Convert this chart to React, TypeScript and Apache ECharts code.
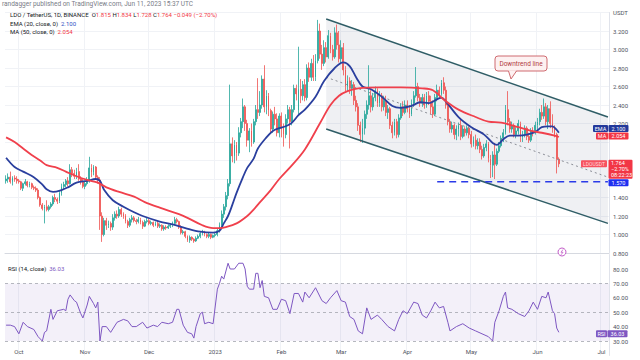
import React, { useEffect, useRef } from 'react';
import * as echarts from 'echarts';

const FONT = 'Roboto, "Liberation Sans", sans-serif';

// ---- categories: daily dates from 2022-09-25 to 2023-07-04 ----
const START_UTC = Date.UTC(2022, 8, 25);
const DAY_COUNT = 283;
const CATEGORIES: string[] = [];
for (let i = 0; i < DAY_COUNT; i++) {
  CATEGORIES.push(new Date(START_UTC + i * 86400000).toISOString().slice(0, 10));
}
const MONTH_LABELS = ['2023', 'Feb', 'Mar', 'Apr', 'May', 'Jun', 'Jul', 'Aug', 'Sep', 'Oct', 'Nov', 'Dec'];

// ---- price axis ticks ----
const PRICE_MIN = 0.8;
const PRICE_MAX = 3.4;
const PRICE_STEP = 0.2;
const HIDDEN_PRICE_TICKS = [1.6, 1.8, 2.0]; // covered by the value tags in the reference
const RSI_MIN = 20;
const RSI_MAX = 90;
const RSI_STEP = 10;

// ---- OHLC [open, close, low, high] ----
const OHLC_SEP = [
  [1.58, 1.60, 1.55, 1.64], [1.60, 1.62, 1.56, 1.66], [1.62, 1.57, 1.55, 1.68], [1.57, 1.61, 1.53, 1.63],
  [1.61, 1.60, 1.57, 1.64], [1.60, 1.58, 1.55, 1.63],
];
const OHLC_OCT = [
  [1.58, 1.57, 1.55, 1.60], [1.57, 1.50, 1.48, 1.58], [1.50, 1.55, 1.47, 1.56], [1.55, 1.57, 1.53, 1.60],
  [1.57, 1.53, 1.51, 1.58], [1.53, 1.55, 1.51, 1.57], [1.55, 1.51, 1.49, 1.56], [1.51, 1.50, 1.48, 1.53],
  [1.50, 1.48, 1.46, 1.52], [1.48, 1.40, 1.38, 1.50], [1.40, 1.32, 1.30, 1.41], [1.32, 1.28, 1.26, 1.34],
  [1.28, 1.30, 1.12, 1.32], [1.30, 1.27, 1.25, 1.37], [1.27, 1.30, 1.25, 1.32], [1.30, 1.33, 1.28, 1.35],
  [1.33, 1.40, 1.31, 1.42], [1.40, 1.38, 1.35, 1.44], [1.38, 1.36, 1.33, 1.40], [1.36, 1.45, 1.34, 1.47],
  [1.45, 1.52, 1.42, 1.55], [1.52, 1.54, 1.49, 1.57], [1.54, 1.58, 1.51, 1.60], [1.58, 1.55, 1.52, 1.62],
  [1.55, 1.70, 1.54, 1.76], [1.70, 1.66, 1.62, 1.73], [1.66, 1.63, 1.60, 1.70], [1.63, 1.68, 1.60, 1.72],
  [1.68, 1.60, 1.58, 1.76], [1.60, 1.57, 1.54, 1.63], [1.57, 1.52, 1.50, 1.60],
];
const OHLC_NOV = [
  [1.52, 1.55, 1.49, 1.58], [1.55, 1.58, 1.53, 1.62], [1.58, 1.72, 1.56, 1.84], [1.72, 1.67, 1.62, 1.76],
  [1.67, 1.73, 1.64, 1.75], [1.73, 1.62, 1.60, 1.74], [1.62, 1.59, 1.55, 1.64], [1.59, 1.20, 1.05, 1.62],
  [1.20, 1.00, 0.92, 1.24], [1.00, 1.15, 0.98, 1.18], [1.15, 1.10, 1.05, 1.18], [1.10, 1.12, 1.07, 1.15],
  [1.12, 1.08, 1.04, 1.14], [1.08, 1.18, 1.05, 1.22], [1.18, 1.22, 1.15, 1.25], [1.22, 1.20, 1.17, 1.26],
  [1.20, 1.27, 1.18, 1.30], [1.27, 1.22, 1.19, 1.29], [1.22, 1.20, 1.17, 1.24], [1.20, 1.14, 1.12, 1.22],
  [1.14, 1.10, 1.07, 1.16], [1.10, 1.16, 1.08, 1.18], [1.16, 1.18, 1.13, 1.21], [1.18, 1.15, 1.13, 1.20],
  [1.15, 1.14, 1.11, 1.17], [1.14, 1.16, 1.12, 1.19], [1.16, 1.13, 1.11, 1.18], [1.13, 1.09, 1.06, 1.15],
  [1.09, 1.14, 1.08, 1.16], [1.14, 1.15, 1.12, 1.18],
];
const OHLC_DEC = [
  [1.15, 1.12, 1.10, 1.17], [1.12, 1.13, 1.10, 1.15], [1.13, 1.10, 1.08, 1.14], [1.10, 1.12, 1.09, 1.14],
  [1.12, 1.09, 1.07, 1.15], [1.09, 1.10, 1.07, 1.12], [1.10, 1.06, 1.04, 1.11], [1.06, 1.08, 1.04, 1.10],
  [1.08, 1.07, 1.05, 1.10], [1.07, 1.09, 1.06, 1.11], [1.09, 1.10, 1.07, 1.12], [1.10, 1.12, 1.08, 1.14],
  [1.12, 1.16, 1.10, 1.19], [1.16, 1.14, 1.12, 1.18], [1.14, 1.08, 1.06, 1.15], [1.08, 1.02, 1.00, 1.10],
  [1.02, 1.03, 1.00, 1.05], [1.03, 0.98, 0.96, 1.04], [0.98, 0.94, 0.92, 0.99], [0.94, 0.97, 0.91, 0.99],
  [0.97, 0.95, 0.93, 0.98], [0.95, 0.93, 0.91, 0.96], [0.93, 0.96, 0.92, 0.98], [0.96, 0.98, 0.95, 1.00],
  [0.98, 1.01, 0.96, 1.03], [1.01, 1.03, 0.99, 1.05], [1.03, 1.00, 0.98, 1.04], [1.00, 0.98, 0.96, 1.01],
  [0.98, 1.00, 0.96, 1.02], [1.00, 0.97, 0.95, 1.01], [0.97, 0.99, 0.96, 1.00],
];
const OHLC_JAN = [
  [0.99, 1.00, 0.97, 1.02], [1.00, 1.04, 0.98, 1.06], [1.04, 1.10, 1.02, 1.13], [1.10, 1.22, 1.08, 1.26],
  [1.22, 1.30, 1.18, 1.33], [1.30, 1.42, 1.26, 1.46], [1.42, 1.55, 1.38, 1.60], [1.55, 1.98, 1.52, 2.62],
  [1.98, 1.85, 1.78, 2.05], [1.85, 1.97, 1.77, 2.02], [1.97, 1.88, 1.80, 2.00], [1.88, 2.10, 1.85, 2.16],
  [2.10, 2.22, 2.05, 2.26], [2.22, 2.38, 2.15, 2.47], [2.38, 2.20, 2.12, 2.40], [2.20, 2.02, 1.95, 2.24],
  [2.02, 2.12, 1.89, 2.15], [2.12, 2.00, 1.95, 2.20], [2.00, 2.22, 1.98, 2.25], [2.22, 2.35, 2.18, 2.40],
  [2.35, 2.32, 2.25, 2.69], [2.32, 2.40, 2.28, 2.55], [2.40, 2.68, 2.36, 2.72], [2.68, 2.38, 2.32, 2.83],
  [2.38, 2.50, 2.30, 2.56], [2.50, 2.34, 2.28, 2.53], [2.34, 2.14, 2.10, 2.36], [2.14, 2.30, 2.10, 2.33],
  [2.30, 2.25, 2.18, 2.38], [2.25, 2.10, 2.06, 2.31], [2.10, 2.28, 2.05, 2.31],
];
const OHLC_FEB = [
  [2.28, 2.15, 2.05, 2.32], [2.15, 2.08, 1.95, 2.20], [2.08, 2.25, 2.04, 2.30], [2.25, 2.35, 2.20, 2.40],
  [2.35, 2.22, 1.93, 2.38], [2.22, 2.35, 2.18, 2.40], [2.35, 2.58, 2.32, 2.62], [2.58, 2.52, 2.45, 2.62],
  [2.34, 2.57, 2.30, 3.03], [2.57, 2.50, 2.42, 2.68], [2.50, 2.62, 2.45, 2.66], [2.62, 2.48, 2.44, 2.68],
  [2.48, 2.80, 2.45, 2.84], [2.80, 2.70, 2.65, 2.86], [2.70, 2.85, 2.66, 2.90], [2.85, 2.70, 2.66, 2.94],
  [2.70, 2.88, 2.66, 2.95], [2.88, 3.20, 2.85, 3.32], [3.20, 2.95, 2.90, 3.28], [2.95, 2.85, 2.78, 3.05],
  [2.85, 3.02, 2.82, 3.10], [3.02, 2.92, 2.86, 3.08], [2.92, 3.15, 2.90, 3.21], [3.15, 3.00, 2.96, 3.18],
  [3.00, 2.92, 2.88, 3.05], [2.92, 3.18, 2.90, 3.24], [3.18, 3.05, 3.00, 3.27], [3.05, 2.90, 2.86, 3.20],
];
const OHLC_MAR = [
  [2.90, 3.02, 2.85, 3.10], [3.02, 2.78, 2.72, 3.07], [2.78, 2.60, 2.55, 2.82], [2.60, 2.66, 2.55, 2.72],
  [2.66, 2.58, 2.52, 2.70], [2.58, 2.62, 2.50, 2.67], [2.62, 2.45, 2.40, 2.65], [2.45, 2.38, 2.33, 2.50],
  [2.38, 2.18, 2.12, 2.42], [2.18, 2.08, 2.00, 2.22], [2.08, 2.15, 1.99, 2.25], [2.15, 2.30, 2.08, 2.34],
  [2.30, 2.40, 2.25, 2.45], [2.40, 2.50, 2.35, 2.83], [2.50, 2.38, 2.32, 2.56], [2.38, 2.48, 2.34, 2.53],
  [2.48, 2.55, 2.44, 2.60], [2.55, 2.42, 2.38, 2.58], [2.42, 2.50, 2.38, 2.55], [2.50, 2.38, 2.33, 2.53],
  [2.38, 2.45, 2.34, 2.50], [2.45, 2.32, 2.28, 2.50], [2.32, 2.36, 2.25, 2.40], [2.36, 2.18, 2.14, 2.38],
  [2.18, 2.10, 2.04, 2.22], [2.10, 2.22, 2.07, 2.25], [2.22, 2.08, 2.04, 2.25], [2.08, 2.26, 2.05, 2.30],
  [2.26, 2.38, 2.24, 2.42], [2.38, 2.32, 2.28, 2.44], [2.32, 2.40, 2.30, 2.45],
];
const OHLC_APR = [
  [2.40, 2.36, 2.32, 2.45], [2.36, 2.30, 2.26, 2.40], [2.30, 2.42, 2.28, 2.46], [2.42, 2.50, 2.38, 2.55],
  [2.50, 2.60, 2.48, 2.81], [2.60, 2.48, 2.44, 2.64], [2.48, 2.42, 2.38, 2.52], [2.42, 2.48, 2.38, 2.52],
  [2.48, 2.40, 2.36, 2.52], [2.40, 2.50, 2.37, 2.54], [2.50, 2.44, 2.40, 2.55], [2.44, 2.38, 2.30, 2.50],
  [2.38, 2.30, 2.26, 2.45], [2.30, 2.48, 2.28, 2.52], [2.48, 2.56, 2.44, 2.62], [2.56, 2.52, 2.48, 2.60],
  [2.52, 2.64, 2.50, 2.67], [2.64, 2.56, 2.52, 2.70], [2.56, 2.40, 2.36, 2.60], [2.40, 2.22, 2.18, 2.43],
  [2.22, 2.14, 2.10, 2.25], [2.14, 2.18, 2.10, 2.22], [2.18, 2.08, 2.03, 2.20], [2.08, 2.14, 2.02, 2.18],
  [2.14, 2.18, 2.06, 2.21], [2.18, 2.06, 2.02, 2.24], [2.06, 2.14, 2.04, 2.18], [2.14, 2.10, 2.06, 2.16],
  [2.10, 2.15, 2.07, 2.18], [2.15, 2.08, 2.04, 2.17],
];
const OHLC_MAY = [
  [2.08, 1.98, 1.94, 2.12], [1.98, 2.02, 1.95, 2.06], [2.02, 1.96, 1.92, 2.08], [1.96, 2.00, 1.92, 2.04],
  [2.00, 1.92, 1.88, 2.04], [1.92, 1.85, 1.81, 1.96], [1.85, 1.94, 1.83, 1.98], [1.94, 1.98, 1.90, 2.02],
  [1.98, 1.82, 1.78, 2.00], [1.82, 1.75, 1.61, 1.86], [1.75, 1.86, 1.62, 1.90], [1.86, 1.76, 1.60, 1.99],
  [1.76, 1.90, 1.74, 1.93], [1.90, 1.96, 1.88, 2.00], [1.96, 2.04, 1.94, 2.07], [2.04, 2.10, 2.00, 2.14],
  [2.10, 2.35, 2.08, 2.40], [2.35, 2.22, 2.18, 2.55], [2.22, 2.14, 2.10, 2.26], [2.14, 2.18, 2.10, 2.22],
  [2.18, 2.08, 2.05, 2.20], [2.08, 2.12, 2.04, 2.16], [2.12, 2.20, 2.08, 2.24], [2.20, 2.05, 2.00, 2.22],
  [2.05, 2.08, 2.00, 2.12], [2.08, 2.15, 2.05, 2.18], [2.15, 2.06, 2.02, 2.17], [2.06, 2.02, 1.99, 2.10],
  [2.02, 2.12, 2.00, 2.15], [2.12, 2.10, 2.06, 2.16], [2.10, 2.18, 2.08, 2.22],
];
const OHLC_JUN = [
  [2.18, 2.22, 2.12, 2.26], [2.22, 2.32, 2.18, 2.36], [2.32, 2.28, 2.24, 2.40], [2.28, 2.38, 2.25, 2.47],
  [2.38, 2.22, 2.18, 2.42], [2.22, 2.36, 2.14, 2.40], [2.36, 2.20, 2.15, 2.44], [2.20, 2.14, 2.10, 2.30],
  [2.14, 2.08, 2.05, 2.18], [2.08, 1.813, 1.66, 2.10], [1.815, 1.764, 1.728, 1.834],
];
const OHLC = [
  ...OHLC_SEP, ...OHLC_OCT, ...OHLC_NOV, ...OHLC_DEC, ...OHLC_JAN,
  ...OHLC_FEB, ...OHLC_MAR, ...OHLC_APR, ...OHLC_MAY, ...OHLC_JUN,
];
const LAST_INDEX = OHLC.length - 1;

// ---- indicator readings [dayIndex, value] ----
const EMA20 = [
  [0, 1.83], [4, 1.73], [8, 1.68], [13, 1.62], [17, 1.54], [19, 1.49], [22, 1.46], [26, 1.48], [29, 1.51],
  [33, 1.56], [38, 1.58], [42, 1.60], [44, 1.58], [46, 1.48], [50, 1.37], [55, 1.30], [60, 1.24], [64, 1.20],
  [72, 1.14], [78, 1.11], [84, 1.07], [91, 1.03], [97, 1.02], [100, 1.04], [102, 1.12], [104, 1.20],
  [106, 1.32], [108, 1.45], [111, 1.62], [113, 1.72], [116, 1.82], [118, 1.93], [122, 2.05], [125, 2.12],
  [128, 2.15], [131, 2.17], [134, 2.21], [137, 2.29], [140, 2.35], [145, 2.49], [149, 2.66], [154, 2.80],
  [158, 2.86], [161, 2.82], [164, 2.70], [167, 2.60], [171, 2.57], [176, 2.49], [181, 2.39], [185, 2.37],
  [190, 2.39], [194, 2.43], [198, 2.42], [204, 2.48], [206, 2.44], [212, 2.27], [218, 2.16], [224, 2.08],
  [228, 1.99], [230, 1.97], [233, 2.03], [236, 2.07], [240, 2.07], [244, 2.08], [248, 2.11], [251, 2.16],
  [254, 2.17], [256, 2.17], [258, 2.13], [259, 2.10],
];
const MA50 = [
  [0, 2.05], [4, 2.00], [8, 1.93], [12, 1.86], [16, 1.80], [19, 1.75], [24, 1.72], [28, 1.68], [33, 1.63],
  [38, 1.59], [43, 1.56], [47, 1.51], [53, 1.46], [60, 1.41], [65, 1.35], [72, 1.29], [81, 1.22], [85, 1.18],
  [92, 1.10], [97, 1.07], [100, 1.07], [103, 1.08], [108, 1.12], [113, 1.20], [116, 1.27], [119, 1.35],
  [124, 1.48], [128, 1.60], [134, 1.75], [140, 1.92], [147, 2.20], [152, 2.40], [156, 2.50], [160, 2.55],
  [165, 2.58], [175, 2.59], [185, 2.59], [195, 2.58], [200, 2.56], [205, 2.46], [212, 2.35], [220, 2.27],
  [226, 2.22], [232, 2.21], [240, 2.16], [246, 2.12], [251, 2.10], [257, 2.07], [259, 2.054],
];
const RSI14 = [
  [0, 41], [2, 41], [4, 40], [6, 35], [8, 43], [10, 40], [13, 38], [15, 33], [17, 30], [18, 36], [19, 37],
  [21, 52], [22, 45], [24, 51], [27, 52], [28, 51], [29, 59], [30, 62], [32, 58], [33, 57], [35, 49], [36, 46],
  [38, 55], [39, 61], [41, 56], [42, 53], [43, 57], [44, 30], [45, 40], [47, 40], [49, 36], [52, 43], [55, 45],
  [57, 44], [59, 40], [61, 40], [64, 43], [66, 39], [69, 41], [71, 40], [73, 43], [76, 42], [78, 43], [80, 52],
  [81, 52], [83, 41], [85, 36], [87, 35], [88, 32], [89, 40], [91, 49], [92, 50], [93, 42], [95, 43], [97, 42],
  [99, 66], [100, 70], [101, 75], [102, 73], [104, 84], [105, 80], [107, 80], [109, 84], [111, 84], [112, 80],
  [113, 68], [114, 66], [116, 66], [117, 77], [118, 77], [119, 67], [120, 72], [121, 61], [123, 60], [125, 52],
  [127, 52], [129, 59], [131, 58], [133, 49], [135, 63], [137, 63], [139, 57], [140, 64], [142, 60], [145, 67],
  [148, 58], [150, 56], [152, 60], [155, 65], [157, 58], [159, 57], [161, 47], [163, 45], [165, 37], [167, 35],
  [169, 53], [171, 45], [174, 48], [176, 45], [179, 40], [182, 37], [184, 45], [186, 51], [188, 49], [191, 57],
  [193, 56], [195, 48], [197, 46], [199, 51], [201, 57], [203, 53], [205, 54], [207, 43], [208, 37], [211, 40],
  [214, 42], [217, 39], [220, 37], [223, 35], [226, 33], [228, 30], [229, 43], [231, 51], [233, 61], [234, 64],
  [235, 53], [237, 52], [240, 49], [243, 47], [245, 51], [247, 57], [249, 52], [251, 61], [253, 60], [254, 64],
  [256, 51], [257, 49], [258, 39], [259, 36.03],
];

// ---- drawn trend channel (day index, price) ----
const CHANNEL_START = 150;
const CHANNEL_END = 282;
const UPPER_LINE = [[CHANNEL_START, 3.33], [CHANNEL_END, 2.27]];
const LOWER_LINE = [[CHANNEL_START, 2.14], [CHANNEL_END, 1.12]];
const MID_LINE = [[CHANNEL_START, 2.70], [CHANNEL_END, 1.62]];
const SUPPORT_LEVEL = 1.57;
const SUPPORT_LINE = [[202, SUPPORT_LEVEL], [CHANNEL_END, SUPPORT_LEVEL]];

// ---- legend values ----
const LAST = { o: '1.815', h: '1.834', l: '1.728', c: '1.764', chg: '−0.049 (−2.70%)' };
const EMA_LAST = 2.1;
const MA_LAST = 2.054;
const RSI_LAST = 36.03;
const LAST_CLOSE = 1.764;

const UP = '#26a69a';
const DOWN = '#ef5350';
const EMA_COLOR = '#2a3f9e';
const MA_COLOR = '#f0404c';
const RSI_COLOR = '#7e57c2';
const GRID_COLOR = '#f0f2f6';

const isMonthStart = (index: number) => {
  const v = CATEGORIES[index];
  return !!v && v.slice(8, 10) === '01';
};
const monthLabel = (v: string) => {
  const m = parseInt(v.slice(5, 7), 10);
  return MONTH_LABELS[m - 1];
};

function txt(x: number, y: number, text: string, fill: string, fontSize = 6, align = 'left', extra: any = {}) {
  return {
    type: 'text', x, y, z: 101,
    style: {
      text, fill, fontSize, fontFamily: FONT,
      align, verticalAlign: 'middle', textAlign: align, textVerticalAlign: 'middle', ...extra,
    },
  };
}
function boxTag(x: number, yc: number, w: number, h: number, bg: string, text: string, color = '#ffffff', fontSize = 5.5) {
  return [
    { type: 'rect', z: 100, shape: { x, y: yc - h / 2, width: w, height: h, r: 1 }, style: { fill: bg } },
    txt(x + w / 2, yc, text, color, fontSize, 'center'),
  ];
}

export default function App() {
  const ref = useRef<HTMLDivElement>(null);
  useEffect(() => {
    if (!ref.current) return;
    const chart = echarts.init(ref.current, undefined, { renderer: 'svg' });
    const axisLabelBase = { fontSize: 6, color: '#50535e', fontFamily: FONT };
    chart.setOption({
      animation: false,
      backgroundColor: '#ffffff',
      grid: [
        { left: 5, right: 31, top: 12.5, height: 240.5 },
        { left: 5, right: 31, top: 254.6, height: 100.8 },
      ],
      xAxis: [
        {
          gridIndex: 0, type: 'category', data: CATEGORIES, boundaryGap: true,
          axisLine: { show: true, lineStyle: { color: '#d6d9e0' } }, axisTick: { show: false },
          axisLabel: { show: false },
          splitLine: { show: true, interval: (i: number) => isMonthStart(i), lineStyle: { color: GRID_COLOR } },
        },
        {
          gridIndex: 1, type: 'category', data: CATEGORIES, boundaryGap: true,
          axisLine: { show: false }, axisTick: { show: false },
          axisLabel: {
            ...axisLabelBase, inside: true, margin: 1,
            interval: (i: number) => isMonthStart(i),
            formatter: (v: string) => monthLabel(v),
          },
          splitLine: { show: true, interval: (i: number) => isMonthStart(i), lineStyle: { color: GRID_COLOR } },
        },
      ],
      yAxis: [
        {
          gridIndex: 0, type: 'value', position: 'right', min: PRICE_MIN, max: PRICE_MAX, interval: PRICE_STEP,
          axisLine: { show: true, lineStyle: { color: '#e0e3eb' } }, axisTick: { show: false },
          axisLabel: {
            ...axisLabelBase, margin: 4,
            formatter: (v: number) => {
              if (v > PRICE_MAX - 0.01) return 'USDT';
              if (HIDDEN_PRICE_TICKS.some((h) => Math.abs(h - v) < 0.001)) return '';
              return v.toFixed(3);
            },
          },
          splitLine: { lineStyle: { color: GRID_COLOR } },
        },
        {
          gridIndex: 1, type: 'value', position: 'right', min: RSI_MIN, max: RSI_MAX, interval: RSI_STEP,
          axisLine: { show: true, lineStyle: { color: '#e0e3eb' } }, axisTick: { show: false },
          axisLabel: { ...axisLabelBase, margin: 4, formatter: (v: number) => (v >= 30 && v <= 80 ? v.toFixed(2) : '') },
          splitLine: { show: false },
        },
      ],
      series: [
        {
          type: 'custom', xAxisIndex: 0, yAxisIndex: 0, z: 1, silent: true,
          data: [[CHANNEL_START, UPPER_LINE[0][1]]],
          renderItem: (_p: any, api: any) => ({
            type: 'polygon',
            shape: {
              points: [
                api.coord(UPPER_LINE[0]), api.coord(UPPER_LINE[1]),
                api.coord(LOWER_LINE[1]), api.coord(LOWER_LINE[0]),
              ],
            },
            style: { fill: 'rgba(120,134,156,0.12)' },
          }),
        },
        {
          type: 'candlestick', xAxisIndex: 0, yAxisIndex: 0, z: 3, data: OHLC, barWidth: '62%',
          itemStyle: { color: UP, color0: DOWN, borderColor: UP, borderColor0: DOWN, borderWidth: 0.8 },
        },
        {
          type: 'line', xAxisIndex: 0, yAxisIndex: 0, z: 4, data: MID_LINE, symbol: 'none', silent: true,
          lineStyle: { color: '#8a8d96', width: 1, type: [2, 3] },
        },
        {
          type: 'line', xAxisIndex: 0, yAxisIndex: 0, z: 5, data: EMA20, symbol: 'none', smooth: 0.35,
          lineStyle: { color: EMA_COLOR, width: 1.8 },
        },
        {
          type: 'line', xAxisIndex: 0, yAxisIndex: 0, z: 5, data: MA50, symbol: 'none', smooth: 0.35,
          lineStyle: { color: MA_COLOR, width: 1.8 },
        },
        {
          type: 'line', xAxisIndex: 0, yAxisIndex: 0, z: 6, data: UPPER_LINE, symbol: 'none', silent: true,
          lineStyle: { color: '#2f5d66', width: 1.5 },
        },
        {
          type: 'line', xAxisIndex: 0, yAxisIndex: 0, z: 6, data: LOWER_LINE, symbol: 'none', silent: true,
          lineStyle: { color: '#2f5d66', width: 1.5 },
        },
        {
          type: 'line', xAxisIndex: 0, yAxisIndex: 0, z: 6, data: SUPPORT_LINE, symbol: 'none', silent: true,
          lineStyle: { color: '#2a3ae8', width: 1.5, type: [7, 5] },
        },
        {
          type: 'line', xAxisIndex: 1, yAxisIndex: 1, z: 5, data: RSI14, symbol: 'none',
          lineStyle: { color: RSI_COLOR, width: 1 },
          markArea: { silent: true, itemStyle: { color: 'rgba(126,87,194,0.09)' }, data: [[{ yAxis: 30 }, { yAxis: 70 }]] },
          markLine: {
            silent: true, symbol: 'none', label: { show: false },
            lineStyle: { color: '#a3a6af', width: 0.8, type: [3, 3] },
            data: [{ yAxis: 70 }, { yAxis: 50 }, { yAxis: 30 }],
          },
        },
      ],
    });

    const py = (v: number) => (chart.convertToPixel({ xAxisIndex: 0, yAxisIndex: 0 }, [LAST_INDEX, v]) as number[])[1];
    const ry = (v: number) => (chart.convertToPixel({ xAxisIndex: 1, yAxisIndex: 1 }, [LAST_INDEX, v]) as number[])[1];
    const maY = py(MA_LAST) - 1;
    const emaY = Math.min(py(EMA_LAST), maY - 7.5);
    const lastY = py(LAST_CLOSE);
    const lastTop = lastY - 4;
    const supY = Math.max(py(SUPPORT_LEVEL), lastTop + 19 + 4);
    const rsiY = ry(RSI_LAST) + 1.5;

    const graphic: any[] = [
      txt(2, 4, 'randagger published on TradingView.com, Jun 11, 2023 15:37 UTC', '#787b86', 6.5),
      {
        type: 'text', x: 10, y: 14, z: 101,
        style: {
          text: `{a|LDO / TetherUS, 1D, BINANCE}  {a|O}{b|${LAST.o}} {a|H}{b|${LAST.h}} {a|L}{b|${LAST.l}} {a|C}{b|${LAST.c}} {b|${LAST.chg}}`,
          fontSize: 6, fontFamily: FONT, fill: '#131722', verticalAlign: 'middle', textVerticalAlign: 'middle',
          rich: {
            a: { fill: '#131722', color: '#131722', fontSize: 6, fontFamily: FONT },
            b: { fill: '#f23645', color: '#f23645', fontSize: 6, fontFamily: FONT },
          },
        },
      },
      {
        type: 'text', x: 10, y: 23, z: 101,
        style: {
          text: `{a|EMA (20, close, 0)}  {b|${EMA_LAST.toFixed(3)}}`,
          fontSize: 6, fontFamily: FONT, verticalAlign: 'middle', textVerticalAlign: 'middle',
          rich: { a: { fill: '#131722', color: '#131722', fontSize: 6, fontFamily: FONT }, b: { fill: '#2f4fc4', color: '#2f4fc4', fontSize: 6, fontFamily: FONT } },
        },
      },
      {
        type: 'text', x: 10, y: 31, z: 101,
        style: {
          text: `{a|MA (50, close, 0)}  {b|${MA_LAST.toFixed(3)}}`,
          fontSize: 6, fontFamily: FONT, verticalAlign: 'middle', textVerticalAlign: 'middle',
          rich: { a: { fill: '#131722', color: '#131722', fontSize: 6, fontFamily: FONT }, b: { fill: '#f23645', color: '#f23645', fontSize: 6, fontFamily: FONT } },
        },
      },
      {
        type: 'text', x: 8, y: 268, z: 101,
        style: {
          text: `{a|RSI (14, close)}  {b|${RSI_LAST.toFixed(2)}}`,
          fontSize: 6, fontFamily: FONT, verticalAlign: 'middle', textVerticalAlign: 'middle',
          rich: { a: { fill: '#131722', color: '#131722', fontSize: 6, fontFamily: FONT }, b: { fill: RSI_COLOR, color: RSI_COLOR, fontSize: 6, fontFamily: FONT } },
        },
      },
      // Downtrend callout
      { type: 'rect', z: 100, shape: { x: 495, y: 56, width: 52, height: 15, r: 3 }, style: { fill: '#fdf1f1', stroke: '#cf6b70', lineWidth: 1 } },
      { type: 'polygon', z: 101, shape: { points: [[508.5, 70.2], [516.5, 70.2], [511, 79]] }, style: { fill: '#fdf1f1' } },
      { type: 'polyline', z: 101, shape: { points: [[508.5, 71], [511, 79], [516.5, 71]] }, style: { fill: 'none', stroke: '#cf6b70', lineWidth: 1 } },
      txt(521, 63.5, 'Downtrend line', '#b23a42', 6.5, 'center'),
      // event icon
      { type: 'circle', z: 100, shape: { cx: 562, cy: 252, r: 4 }, style: { fill: '#ffffff', stroke: '#c35ec9', lineWidth: 1 } },
      { type: 'polyline', z: 101, shape: { points: [[563, 249.5], [561, 252.3], [563, 252.3], [561, 254.8]] }, style: { fill: 'none', stroke: '#c35ec9', lineWidth: 0.8 } },
      // right-side value tags
      ...boxTag(593, emaY, 15, 7, '#23399b', 'EMA'),
      ...boxTag(608.5, emaY, 20, 7, '#23399b', EMA_LAST.toFixed(3)),
      ...boxTag(596, maY, 12, 7, '#f23645', 'MA'),
      ...boxTag(608.5, maY, 20, 7, '#f23645', MA_LAST.toFixed(3)),
      { type: 'rect', z: 100, shape: { x: 581, y: lastY - 3.5, width: 26, height: 7, r: 1 }, style: { fill: '#f7525f' } },
      txt(594, lastY, 'LDOUSDT', '#ffd9dc', 5, 'center'),
      { type: 'rect', z: 100, shape: { x: 608.5, y: lastTop, width: 24, height: 19, r: 1 }, style: { fill: '#f23645' } },
      txt(611, lastTop + 3.5, LAST.c, '#ffffff', 5.5),
      txt(611, lastTop + 9.5, '−2.70%', '#ffffff', 5.5),
      txt(611, lastTop + 15.5, '08:22:23', '#ffffff', 5.5),
      ...boxTag(608.5, supY, 20, 7, '#1f2ff0', SUPPORT_LEVEL.toFixed(3)),
      ...boxTag(596, rsiY, 11, 7, RSI_COLOR, 'RSI'),
      ...boxTag(607.5, rsiY, 20, 7, RSI_COLOR, RSI_LAST.toFixed(2)),
    ];
    chart.setOption({ graphic });
    return () => chart.dispose();
  }, []);
  return <div ref={ref} style={{ position: 'fixed', left: 0, top: 0, width: 640, height: 360 }} />;
}
